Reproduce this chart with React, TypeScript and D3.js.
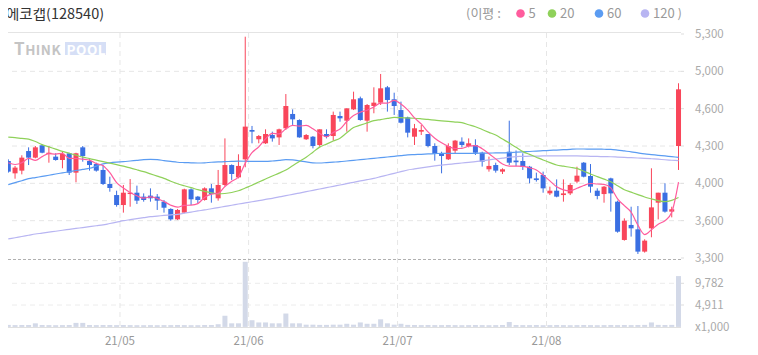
import React from "react"
import * as d3 from "d3"

// trading days shown: 2021-04-08 .. 2021-08-30 (KRX holidays removed)
const firstDay = "2021-04-08"
const lastDay = "2021-08-30"
const holidays = ["2021-05-05", "2021-05-19", "2021-08-16"]

const monthStarts = ["2021-05-03", "2021-06-01", "2021-07-01", "2021-08-02"]
const monthLabels = ["21/05", "21/06", "21/07", "21/08"]

const open = [
  4166, 4056, 4080, 4255, 4196, 4306, 4229, 4205, 4175, 4235,
  4062, 4288, 4166, 4139, 4086, 3961, 3862, 3773, 3871, 3883,
  3848, 3857, 3848, 3803, 3738, 3645, 3705, 3913, 3848, 3818,
  3922, 3833, 3952, 4130, 4020, 4181, 4443, 4360, 4324, 4398,
  4377, 4458, 4586, 4532, 4360, 4383, 4309, 4407, 4389, 4568,
  4526, 4627, 4726, 4526, 4657, 4687, 4824, 4717, 4621, 4556,
  4383, 4428, 4407, 4300, 4229, 4181, 4258, 4339, 4300, 4309,
  4240, 4092, 4130, 4071, 4249, 4170, 4166, 4115, 4011, 4041,
  3877, 3901, 3862, 3877, 3982, 4151, 4032, 3901, 3871, 4011,
  3803, 3461, 3595, 3556, 3357, 3565, 3794, 3883, 3714, 4300,
]
const high = [
  4181, 4122, 4217, 4288, 4300, 4315, 4300, 4235, 4249, 4240,
  4240, 4300, 4181, 4151, 4130, 4026, 3901, 3952, 4005, 3946,
  3877, 3922, 3871, 3818, 3744, 3738, 3919, 3922, 3854, 3931,
  3961, 4086, 4368, 4136, 4226, 5276, 4479, 4398, 4449, 4428,
  4455, 4764, 4627, 4538, 4407, 4389, 4449, 4449, 4607, 4607,
  4636, 4785, 4741, 4675, 4824, 4943, 4836, 4776, 4696, 4562,
  4497, 4488, 4407, 4324, 4249, 4324, 4354, 4377, 4368, 4360,
  4249, 4205, 4151, 4101, 4526, 4260, 4235, 4122, 4062, 4071,
  3937, 4002, 4002, 3967, 4115, 4157, 4139, 3922, 3943, 4017,
  3812, 3654, 3758, 3764, 3467, 4101, 3883, 3967, 3758, 4860,
]
const low = [
  4062, 4008, 4047, 4130, 4190, 4235, 4151, 4169, 4101, 4041,
  3976, 4160, 4080, 4071, 3952, 3892, 3758, 3705, 3758, 3782,
  3803, 3803, 3729, 3705, 3633, 3639, 3699, 3773, 3788, 3812,
  3794, 3812, 3943, 3997, 4011, 4110, 4324, 4324, 4318, 4339,
  4309, 4443, 4488, 4374, 4354, 4279, 4294, 4368, 4348, 4517,
  4428, 4621, 4526, 4428, 4592, 4666, 4607, 4577, 4502, 4377,
  4309, 4398, 4288, 4169, 4056, 4175, 4235, 4288, 4288, 4220,
  4116, 4071, 4062, 4050, 4130, 4120, 4086, 3967, 3982, 3883,
  3862, 3842, 3803, 3862, 3967, 4020, 3883, 3824, 3794, 3714,
  3526, 3455, 3491, 3336, 3348, 3485, 3645, 3705, 3663, 4086,
]
const close = [
  4071, 4107, 4196, 4196, 4288, 4240, 4240, 4175, 4229, 4062,
  4235, 4211, 4130, 4080, 3961, 3925, 3773, 3883, 3883, 3812,
  3818, 3833, 3812, 3749, 3645, 3729, 3913, 3824, 3818, 3922,
  3871, 3952, 4130, 4050, 4122, 4473, 4428, 4389, 4407, 4368,
  4449, 4657, 4538, 4377, 4398, 4300, 4449, 4383, 4577, 4547,
  4636, 4717, 4532, 4666, 4687, 4815, 4711, 4657, 4508, 4419,
  4458, 4443, 4300, 4229, 4211, 4300, 4348, 4309, 4324, 4240,
  4160, 4122, 4080, 4092, 4151, 4155, 4115, 4011, 3996, 3922,
  3901, 3848, 3877, 3952, 4035, 4026, 3937, 3854, 3937, 3877,
  3535, 3633, 3565, 3357, 3455, 3752, 3883, 3714, 3735, 4806,
]
// volume, x1,000 shares
const volume = [
  450, 400, 420, 420, 800, 420, 400, 380, 400, 420,
  900, 900, 420, 400, 420, 420, 400, 420, 400, 380,
  380, 400, 380, 400, 400, 420, 400, 380, 380, 420,
  420, 600, 2500, 800, 800, 14600, 1500, 1000, 1000, 800,
  800, 3000, 800, 800, 500, 500, 450, 450, 500, 500,
  700, 500, 1000, 700, 700, 1700, 800, 500, 700, 450,
  420, 400, 420, 400, 400, 420, 400, 380, 400, 420,
  400, 380, 400, 420, 1100, 420, 400, 400, 420, 380,
  400, 420, 400, 380, 400, 420, 400, 380, 400, 420,
  400, 420, 400, 420, 450, 1000, 450, 420, 450, 11400,
]
// first four 5-day averages (earlier closes are off the chart)
const ma5Lead = [4150, 4135, 4150, 4190]
const ma20 = [
  4380, 4375, 4368, 4362, 4340, 4312, 4292, 4272, 4252, 4235,
  4218, 4200, 4188, 4174, 4160, 4147, 4134, 4120, 4104, 4088,
  4071, 4051, 4031, 4011, 3985, 3963, 3945, 3928, 3910, 3895,
  3882, 3872, 3876, 3885, 3900, 3925, 3950, 3978, 4005, 4032,
  4058, 4086, 4124, 4162, 4200, 4245, 4290, 4317, 4344, 4370,
  4418, 4465, 4486, 4506, 4526, 4536, 4546, 4555, 4553, 4550,
  4548, 4543, 4537, 4531, 4525, 4520, 4514, 4508, 4490, 4472,
  4447, 4422, 4398, 4362, 4326, 4288, 4250, 4225, 4200, 4175,
  4152, 4130, 4120, 4110, 4100, 4075, 4050, 4027, 4004, 3981,
  3945, 3910, 3888, 3866, 3845, 3828, 3812, 3803, 3815, 3840,
]
const ma60 = [
  3955, 3973, 3990, 4008, 4018, 4029, 4039, 4050, 4060, 4070,
  4081, 4091, 4101, 4120, 4140, 4150, 4156, 4160, 4166, 4172,
  4178, 4181, 4178, 4170, 4162, 4155, 4152, 4150, 4148, 4150,
  4155, 4158, 4160, 4163, 4165, 4164, 4162, 4162, 4162, 4166,
  4172, 4178, 4176, 4168, 4158, 4150, 4148, 4152, 4156, 4160,
  4166, 4172, 4178, 4184, 4190, 4196, 4202, 4208, 4214, 4220,
  4223, 4226, 4229, 4232, 4235, 4235, 4235, 4235, 4235, 4235,
  4236, 4237, 4238, 4239, 4240, 4244, 4248, 4251, 4255, 4258,
  4261, 4264, 4267, 4270, 4273, 4273, 4272, 4272, 4271, 4270,
  4264, 4256, 4248, 4238, 4229, 4223, 4217, 4211, 4205, 4199,
]
const ma120 = [
  3470, 3481, 3492, 3503, 3514, 3522, 3531, 3539, 3548, 3556,
  3564, 3572, 3580, 3588, 3595, 3608, 3620, 3633, 3642, 3651,
  3660, 3669, 3674, 3680, 3685, 3690, 3700, 3710, 3720, 3729,
  3740, 3750, 3761, 3771, 3782, 3792, 3802, 3812, 3823, 3833,
  3845, 3857, 3868, 3880, 3892, 3904, 3916, 3928, 3940, 3952,
  3964, 3976, 3988, 3999, 4011, 4026, 4041, 4056, 4071, 4086,
  4095, 4104, 4113, 4122, 4130, 4136, 4142, 4148, 4154, 4160,
  4168, 4176, 4184, 4192, 4200, 4206, 4207, 4209, 4210, 4211,
  4211, 4211, 4211, 4211, 4211, 4210, 4208, 4207, 4205, 4204,
  4201, 4198, 4196, 4193, 4190, 4186, 4182, 4177, 4173, 4169,
]

const priceTicks = [5300, 4966.7, 4633.3, 4300, 3966.7, 3633.3, 3300]
const priceTickLabels = ["5,300", "5,000", "4,600", "4,300", "4,000", "3,600", "3,300"]
const volumeTicks = [9782, 4911]
const volumeTickLabels = ["9,782", "4,911"]

const maNames = ["5", "20", "60", "120"]
const maColors = ["#ff5c9d", "#8fd15a", "#5b9cf2", "#b8b5f2"]

const UP = "#f9465a"
const DOWN = "#3a6fe2"
const FONT = "'Noto Sans CJK KR', 'Noto Sans', sans-serif"

function tradingDays() {
  const fmt = d3.timeFormat("%Y-%m-%d")
  const parse = d3.timeParse("%Y-%m-%d")
  return d3.timeDay
    .range(parse(firstDay)!, d3.timeDay.offset(parse(lastDay)!, 1))
    .filter((d) => d.getDay() !== 0 && d.getDay() !== 6)
    .map(fmt)
    .filter((s) => !holidays.includes(s))
}

export default function App() {
  const width = 758
  const height = 355
  const dates = tradingDays()

  const x = d3.scaleBand<string>().domain(dates).range([4.9, 681.9]).padding(0)
  const step = x.step()
  const cx = (i: number) => x(dates[i])! + step / 2
  const y = d3.scaleLinear().domain([3300, 5300]).range([258, 34])
  const yv = d3.scaleLinear().domain([0, 9782]).range([326.9, 283.3])

  const ma5 = close.map((_, i) =>
    i < 4 ? ma5Lead[i] : d3.mean(close.slice(i - 4, i + 1))!
  )
  const maSeries = [ma5, ma20, ma60, ma120]
  const line = d3
    .line<number>()
    .x((_, i) => cx(i))
    .y((v) => y(v))
    .curve(d3.curveMonotoneX)

  const plotLeft = 3
  const plotRight = 681

  return (
    <svg width={width} height={height} style={{ display: "block", margin: "-8px" }} fontFamily={FONT}>
      <rect width={width} height={height} fill="#fff" />

      {/* header */}
      <text x={6} y={19} fontSize={14.5} fill="#333">에코캡(128540)</text>
      <text x={466} y={18} fontSize={13} fill="#999">(이평 :</text>
      {maNames.map((n, i) => {
        const px = [520.5, 552, 599, 645][i]
        return (
          <g key={n}>
            <circle cx={px} cy={13.5} r={4.3} fill={maColors[i]} />
            <text x={px + 8} y={18} fontSize={13} fill="#999">
              {i === 3 ? "120 )" : n}
            </text>
          </g>
        )
      })}
      <line x1={0} x2={plotRight} y1={32.5} y2={32.5} stroke="#e4e4e4" />

      {/* watermark */}
      <text x={14} y={55} fontSize={17} fontWeight="bold" fill="#c4c4c4" letterSpacing={0.5}>
        T<tspan fontSize={13.5}>HINK</tspan>
      </text>
      <rect x={65} y={42} width={41} height={13} fill="#d6dff6" />
      <text x={66.5} y={54.5} fontSize={13.5} fontWeight="bold" fill="#fff" letterSpacing={0.5}>POOL</text>

      {/* grid */}
      {priceTicks.slice(1, -1).map((t) => (
        <line key={t} x1={plotLeft} x2={plotRight} y1={y(t)} y2={y(t)} stroke="#e6e6e6" strokeDasharray="5,4" />
      ))}
      {volumeTicks.map((t) => (
        <line key={t} x1={plotLeft} x2={plotRight} y1={yv(t)} y2={yv(t)} stroke="#ececec" strokeDasharray="5,4" />
      ))}
      {monthStarts.map((m) => (
        <line key={m} x1={x(m)!} x2={x(m)!} y1={33} y2={327} stroke="#e6e6e6" strokeDasharray="5,4" />
      ))}
      <line x1={plotLeft} x2={plotRight} y1={259.5} y2={259.5} stroke="#b0b0b0" strokeDasharray="3,2" />
      <line x1={plotLeft} x2={plotRight} y1={327.5} y2={327.5} stroke="#e0e0e0" />

      {/* volume */}
      {volume.map((v, i) => (
        <rect key={i} x={cx(i) - 2.5} width={5} y={yv(v)} height={yv(0) - yv(v)} fill="#d3d9e8" />
      ))}

      {/* candles */}
      {open.map((o, i) => {
        const c = close[i]
        const col = c >= o ? UP : DOWN
        const top = y(Math.max(o, c))
        const bot = y(Math.min(o, c))
        return (
          <g key={i}>
            <line x1={cx(i)} x2={cx(i)} y1={y(high[i])} y2={y(low[i])} stroke={col} strokeWidth={1} />
            <rect x={cx(i) - 2.5} width={5} y={top} height={Math.max(1, bot - top)} fill={col} />
          </g>
        )
      })}

      {/* moving averages */}
      {maSeries
        .map((s, k) => ({ s, k }))
        .reverse()
        .map(({ s, k }) => (
          <path key={k} d={line(s)!} fill="none" stroke={maColors[k]} strokeWidth={1.2} />
        ))}

      {/* right axis */}
      {priceTicks.map((t, i) => (
        <g key={t}>
          <line x1={681} x2={684} y1={y(t)} y2={y(t)} stroke="#ddd" />
          <text x={695} y={y(t) + 4} fontSize={11.5} fill="#aaa">{priceTickLabels[i]}</text>
        </g>
      ))}
      {volumeTicks.map((t, i) => (
        <g key={t}>
          <line x1={681} x2={684} y1={yv(t)} y2={yv(t)} stroke="#ddd" />
          <text x={695} y={yv(t) + 4} fontSize={11.5} fill="#aaa">{volumeTickLabels[i]}</text>
        </g>
      ))}
      <text x={695} y={330.5} fontSize={11.5} fill="#aaa">x1,000</text>

      {/* month labels */}
      {monthStarts.map((m, i) => (
        <text key={m} x={x(m)!} y={345} fontSize={11.5} fill="#999" textAnchor="middle">
          {monthLabels[i]}
        </text>
      ))}
    </svg>
  )
}
